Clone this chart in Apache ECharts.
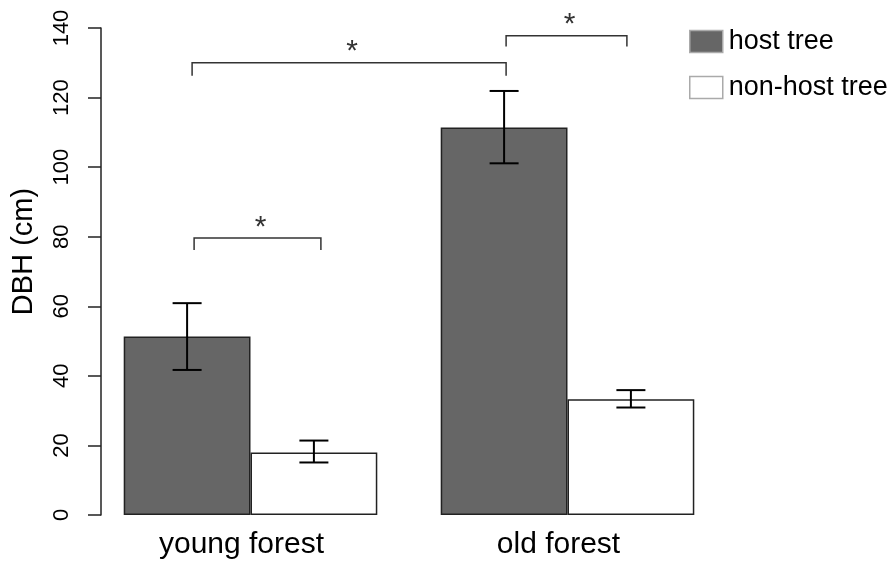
<!DOCTYPE html>
<html>
<head>
<meta charset="utf-8">
<script src="https://cdn.jsdelivr.net/npm/echarts@6/dist/echarts.min.js"></script>
<style>
html,body{margin:0;padding:0;background:#fff;}
#chart{width:894px;height:567px;}
</style>
</head>
<body>
<div id="chart"></div>
<script>
// ---- data ----
const categories = ['young forest', 'old forest'];
const seriesNames = ['host tree', 'non-host tree'];
const hostMean = [51.3, 111.4];
const hostLow = [41.7, 101.1];
const hostHigh = [60.9, 121.9];
const nonHostMean = [18.0, 33.3];
const nonHostLow = [15.1, 30.9];
const nonHostHigh = [21.4, 35.9];
const yTicks = [0, 20, 40, 60, 80, 100, 120, 140];
// significance brackets: from/to = [categoryIndex, seriesIndex]; levels in data units
const sigFrom = [[0, 0], [1, 0], [0, 0]];
const sigTo = [[1, 0], [1, 1], [0, 1]];
const sigLevel = [130.0, 137.8, 79.6];
const sigDrop = [126.3, 134.7, 76.2];
const sigStarLevel = [134.7, 142.4, 84.0];
const sigLabel = ['*', '*', '*'];

// ---- layout / style ----
const FONT = '"Liberation Sans", Arial, sans-serif';
const HOST_COLOR = '#666666';
const NONHOST_COLOR = '#ffffff';
const EDGE = '#222222';
const endNudge = [[5, 2], [2, -4], [7, 7]];

const chart = echarts.init(document.getElementById('chart'), null, {renderer: 'canvas'});

const errData = [];
for (let i = 0; i < categories.length; i++) {
  errData.push([i, hostLow[i], hostHigh[i], 0]);
  errData.push([i, nonHostLow[i], nonHostHigh[i], 1]);
}

const option = {
  backgroundColor: '#ffffff',
  animation: false,
  textStyle: {fontFamily: FONT},
  grid: {left: 92, right: 168, top: 28, bottom: 52, containLabel: false},
  legend: {
    orient: 'vertical',
    left: 684,
    top: 23,
    itemWidth: 33,
    itemHeight: 22,
    itemGap: 19,
    icon: 'rect',
    textStyle: {fontSize: 27, color: '#000', fontFamily: FONT, padding: [0, 0, 0, 1]},
    data: [
      {name: seriesNames[0], itemStyle: {color: HOST_COLOR, borderColor: '#aaaaaa', borderWidth: 1.5}},
      {name: seriesNames[1], itemStyle: {color: NONHOST_COLOR, borderColor: '#aaaaaa', borderWidth: 1.5}}
    ]
  },
  xAxis: {
    type: 'category',
    data: categories,
    axisLine: {show: false},
    axisTick: {show: false},
    axisLabel: {fontSize: 30, color: '#000', margin: 15, fontFamily: FONT, padding: [0, 18, 0, 0]}
  },
  yAxis: {
    type: 'value',
    min: yTicks[0],
    max: yTicks[yTicks.length - 1],
    interval: yTicks[1] - yTicks[0],
    offset: -9,
    name: 'DBH (cm)',
    nameLocation: 'middle',
    nameGap: 63,
    nameTextStyle: {fontSize: 29, color: '#000', fontFamily: FONT, padding: [0, 0, 0, 40]},
    axisLine: {show: true, lineStyle: {color: EDGE, width: 1.5}},
    axisTick: {show: true, length: 13, lineStyle: {color: EDGE, width: 1.5}},
    axisLabel: {rotate: 90, fontSize: 22, color: '#000', margin: 28, fontFamily: FONT},
    splitLine: {show: false}
  },
  series: [
    {
      name: seriesNames[0], type: 'bar', data: hostMean,
      barWidth: '40%', barGap: '0%',
      itemStyle: {color: HOST_COLOR, borderColor: EDGE, borderWidth: 1.5}
    },
    {
      name: seriesNames[1], type: 'bar', data: nonHostMean,
      barWidth: '40%', barGap: '0%',
      itemStyle: {color: NONHOST_COLOR, borderColor: EDGE, borderWidth: 1.5}
    },
    {
      type: 'custom',
      z: 10,
      data: errData,
      renderItem: function (params, api) {
        const ci = api.value(0);
        const lo = api.coord([ci, api.value(1)]);
        const hi = api.coord([ci, api.value(2)]);
        const band = api.size([1, 0])[0];
        const off = (api.value(3) === 0 ? -1 : 1) * band * 0.2;
        const x = lo[0] + off;
        const cap = 14.5;
        const st = {stroke: '#000', lineWidth: 2, fill: null};
        return {
          type: 'group',
          children: [
            {type: 'line', shape: {x1: x, y1: lo[1], x2: x, y2: hi[1]}, style: st},
            {type: 'line', shape: {x1: x - cap, y1: lo[1], x2: x + cap, y2: lo[1]}, style: st},
            {type: 'line', shape: {x1: x - cap, y1: hi[1], x2: x + cap, y2: hi[1]}, style: st}
          ]
        };
      }
    }
  ]
};
chart.setOption(option);

// significance brackets
function barCenterX(ci, si) {
  const c = chart.convertToPixel({gridIndex: 0}, [ci, 0]);
  const c2 = chart.convertToPixel({gridIndex: 0}, [ci + 1, 0]);
  const band = Math.abs(c2[0] - c[0]);
  return c[0] + (si === 0 ? -1 : 1) * band * 0.2;
}
const graphics = [];
for (let k = 0; k < sigFrom.length; k++) {
  const x1 = barCenterX(sigFrom[k][0], sigFrom[k][1]) + endNudge[k][0];
  const x2 = barCenterX(sigTo[k][0], sigTo[k][1]) + endNudge[k][1];
  const yTop = chart.convertToPixel({gridIndex: 0}, [0, sigLevel[k]])[1];
  const yDrop = chart.convertToPixel({gridIndex: 0}, [0, sigDrop[k]])[1];
  const yStar = chart.convertToPixel({gridIndex: 0}, [0, sigStarLevel[k]])[1];
  graphics.push({
    type: 'polyline',
    shape: {points: [[x1, yDrop], [x1, yTop], [x2, yTop], [x2, yDrop]]},
    style: {stroke: '#333', lineWidth: 1.5, fill: null},
    z: 20
  });
  graphics.push({
    type: 'text',
    x: (x1 + x2) / 2 + 3,
    y: yStar + 5,
    style: {
      text: sigLabel[k], fontSize: 30, fontFamily: FONT, fill: '#333',
      align: 'center', verticalAlign: 'middle',
      textAlign: 'center', textVerticalAlign: 'middle'
    },
    z: 20
  });
}
chart.setOption({graphic: graphics});
</script>
</body>
</html>
